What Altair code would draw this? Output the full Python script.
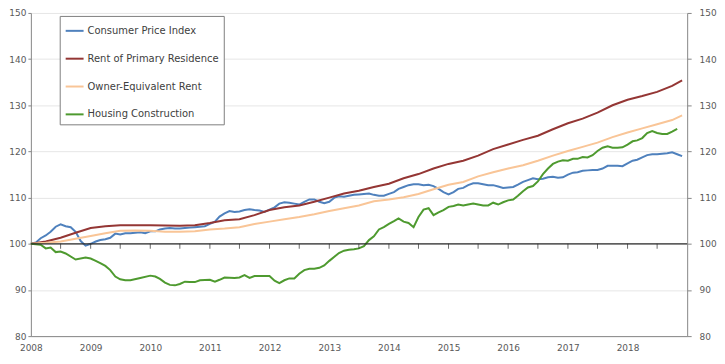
import altair as alt
import pandas as pd

# ---------------- data (index, Jan 2008 = 100) ----------------
SERIES = ["Consumer Price Index", "Rent of Primary Residence",
          "Owner-Equivalent Rent", "Housing Construction"]
COLORS = ["#4f81bd", "#943634", "#f9c597", "#4e9a2f"]

# monthly, Jan 2008 .. Dec 2018
CPI = [100.0, 100.3, 101.2, 101.8, 102.6, 103.7, 104.2, 103.8, 103.6, 102.6, 100.6, 99.6,
       100.0, 100.5, 100.8, 101.0, 101.3, 102.2, 102.0, 102.3, 102.3, 102.4, 102.5, 102.3,
       102.7, 102.7, 103.1, 103.3, 103.4, 103.3, 103.3, 103.4, 103.5, 103.6, 103.7, 103.8,
       104.3, 104.8, 105.9, 106.6, 107.1, 106.9, 107.0, 107.3, 107.5, 107.3, 107.2, 106.9,
       107.4, 107.9, 108.7, 109.0, 108.9, 108.7, 108.5, 109.1, 109.6, 109.6, 109.1, 108.8,
       109.1, 110.0, 110.3, 110.2, 110.4, 110.6, 110.7, 110.8, 110.9, 110.6, 110.4, 110.4,
       110.8, 111.2, 111.9, 112.3, 112.7, 112.9, 112.9, 112.7, 112.8, 112.5, 111.9, 111.2,
       110.7, 111.2, 111.9, 112.1, 112.7, 113.1, 113.1, 112.9, 112.7, 112.7, 112.4, 112.1,
       112.2, 112.3, 112.8, 113.4, 113.8, 114.2, 114.0, 114.1, 114.4, 114.5, 114.3, 114.4,
       115.0, 115.4, 115.5, 115.8, 115.9, 116.0, 116.0, 116.3, 116.9, 116.9, 116.9, 116.8,
       117.4, 118.0, 118.2, 118.7, 119.2, 119.4, 119.4, 119.5, 119.6, 119.8, 119.4, 119.0]

# month offsets from Jan 2008
RENT_M = [0, 3, 6, 9, 12, 15, 18, 24, 30, 33, 36, 39, 42, 45, 48, 51, 54, 57, 60, 63,
          66, 69, 72, 75, 78, 81, 84, 87, 90, 93, 96, 99, 102, 105, 108, 111, 114, 117,
          120, 123, 126, 129, 131]
RENT = [100.0, 100.5, 101.3, 102.4, 103.4, 103.8, 104.0, 104.0, 103.9, 104.0, 104.5,
        105.1, 105.3, 106.2, 107.3, 107.9, 108.3, 109.1, 110.0, 110.9, 111.5, 112.3,
        113.0, 114.2, 115.1, 116.3, 117.3, 118.0, 119.1, 120.5, 121.5, 122.5, 123.4,
        124.8, 126.1, 127.1, 128.4, 130.0, 131.2, 132.0, 132.9, 134.2, 135.4]

OER_M = [0, 3, 6, 9, 12, 15, 18, 21, 24, 27, 30, 33, 36, 39, 42, 45, 48, 51, 54, 57,
         60, 63, 66, 69, 72, 75, 78, 81, 84, 87, 90, 93, 96, 99, 102, 105, 108, 111,
         114, 117, 120, 123, 126, 129, 131]
OER = [100.0, 100.2, 100.5, 101.1, 101.7, 102.3, 102.8, 102.9, 102.8, 102.6, 102.6,
       102.7, 103.1, 103.3, 103.6, 104.3, 104.8, 105.3, 105.8, 106.4, 107.1, 107.7,
       108.3, 109.2, 109.6, 110.1, 110.8, 111.8, 112.8, 113.4, 114.6, 115.5, 116.3,
       117.0, 118.0, 119.1, 120.1, 121.0, 121.9, 123.1, 124.1, 125.0, 125.9, 126.8, 127.8]

HC_M = [0, 2, 3, 4, 5, 6, 7, 9, 11, 12, 13, 14, 15, 16, 17, 18, 19, 20, 22, 24, 25, 26,
        27, 28, 29, 30, 31, 32, 33, 34, 36, 37, 38, 39, 41, 42, 43, 44, 45, 46, 48, 49,
        50, 51, 52, 53, 54, 55, 56, 57, 58, 59, 60, 61, 62, 63, 64, 65, 66, 67, 68, 69,
        70, 71, 72, 73, 74, 75, 76, 77, 78, 79, 80, 81, 82, 83, 84, 85, 86, 87, 88, 89,
        90, 91, 92, 93, 94, 95, 96, 97, 98, 99, 100, 101, 102, 103, 104, 105, 106, 107,
        108, 109, 110, 111, 112, 113, 114, 115, 116, 117, 118, 119, 120, 121, 122, 123,
        124, 125, 126, 127, 128, 129, 130]
HC = [100.0, 99.8, 99.0, 99.2, 98.2, 98.3, 97.9, 96.6, 97.0, 96.8, 96.3, 95.8, 95.2,
      94.3, 92.9, 92.3, 92.1, 92.1, 92.6, 93.1, 92.9, 92.4, 91.6, 91.1, 91.0, 91.3,
      91.8, 91.7, 91.7, 92.1, 92.2, 91.8, 92.2, 92.7, 92.6, 92.7, 93.2, 92.6, 93.0,
      93.0, 93.0, 92.0, 91.5, 92.1, 92.5, 92.5, 93.5, 94.3, 94.6, 94.6, 94.8, 95.3,
      96.3, 97.2, 98.0, 98.5, 98.7, 98.8, 99.0, 99.5, 100.8, 101.6, 103.1, 103.6,
      104.3, 104.9, 105.5, 104.8, 104.5, 103.6, 105.8, 107.4, 107.7, 106.2, 106.8,
      107.3, 108.0, 108.2, 108.5, 108.3, 108.5, 108.7, 108.5, 108.3, 108.3, 108.9,
      108.5, 109.0, 109.4, 109.6, 110.4, 111.4, 112.2, 112.5, 113.5, 115.1, 116.3,
      117.3, 117.8, 118.1, 118.0, 118.4, 118.4, 118.8, 118.7, 119.2, 120.1, 120.8,
      121.1, 120.8, 120.8, 120.9, 121.5, 122.2, 122.4, 122.9, 124.0, 124.4, 124.0,
      123.8, 123.8, 124.3, 124.9]

YEARS = list(range(2008, 2019))
Y_TICKS = [80, 90, 100, 110, 120, 130, 140, 150]

# ---------------- build table ----------------
months = pd.date_range("2008-01-01", periods=133, freq="MS")
rows = []
for i, v in enumerate(CPI):
    rows.append({"date": months[i], "series": SERIES[0], "value": v})
for m, v in zip(RENT_M, RENT):
    rows.append({"date": months[m], "series": SERIES[1], "value": v})
for m, v in zip(OER_M, OER):
    rows.append({"date": months[m], "series": SERIES[2], "value": v})
for m, v in zip(HC_M, HC):
    rows.append({"date": months[m], "series": SERIES[3], "value": v})
df = pd.DataFrame(rows)

tick_df = pd.DataFrame({"date": [months[k] for k in range(6, 132, 6)]})
tick_df["v"] = 100
base_df = pd.DataFrame({"v": [100]})

FONT = "DejaVu Sans"
yscale = alt.Scale(domain=[80, 150], nice=False, zero=False)
xscale = alt.Scale(domain=[alt.DateTime(year=2008, month=1, date=1),
                           alt.DateTime(year=2019, month=1, date=1)])

x_axis = alt.Axis(values=[alt.DateTime(year=y, month=1, date=1) for y in YEARS],
                  format="%Y", title=None, grid=False, ticks=False,
                  domain=True, domainColor="#868686", labelPadding=7,
                  labelFlush=False, labelOverlap=False)
left_axis = alt.Axis(values=Y_TICKS, title=None, orient="left", grid=True,
                     gridColor="#e6e6e6", domain=True, domainColor="#868686",
                     tickSize=3, tickColor="#868686", labelPadding=2)
right_axis = alt.Axis(values=Y_TICKS, title=None, orient="right", grid=False,
                      domain=True, domainColor="#868686", tickSize=4,
                      tickColor="#868686", labelPadding=8)

rule = alt.Chart(base_df).mark_rule(color="#2b2b2b", strokeWidth=1.2).encode(
    y=alt.Y("v:Q", scale=yscale, axis=right_axis)
)

ticks = alt.Chart(tick_df).mark_tick(orient="vertical", size=5, thickness=1,
                                     yOffset=2.5, color="#2b2b2b").encode(
    x=alt.X("date:T", scale=xscale, axis=x_axis),
    y=alt.Y("v:Q", scale=yscale, axis=None),
)

lines = alt.Chart(df).mark_line(strokeWidth=2).encode(
    x=alt.X("date:T", scale=xscale, axis=x_axis),
    y=alt.Y("value:Q", scale=yscale, axis=left_axis),
    color=alt.Color("series:N",
                    scale=alt.Scale(domain=SERIES, range=COLORS),
                    legend=alt.Legend(title=None, orient="none", legendX=29, legendY=3,
                                      direction="vertical", symbolType="stroke",
                                      symbolSize=324, symbolStrokeWidth=2,
                                      labelFont=FONT, labelFontSize=10,
                                      labelColor="#404040", labelOffset=3,
                                      strokeColor="#7f7f7f", fillColor="white",
                                      padding=5, rowPadding=13)),
    order=alt.Order("date:T"),
)

chart = alt.layer(lines, rule, ticks).resolve_axis(y="independent").properties(
    width=660, height=325, padding=0
).configure_view(stroke=None).configure_axis(
    labelFont=FONT, labelFontSize=9, labelColor="#595959"
)

chart.save("out.html", embed_options={"renderer": "svg", "actions": False})
